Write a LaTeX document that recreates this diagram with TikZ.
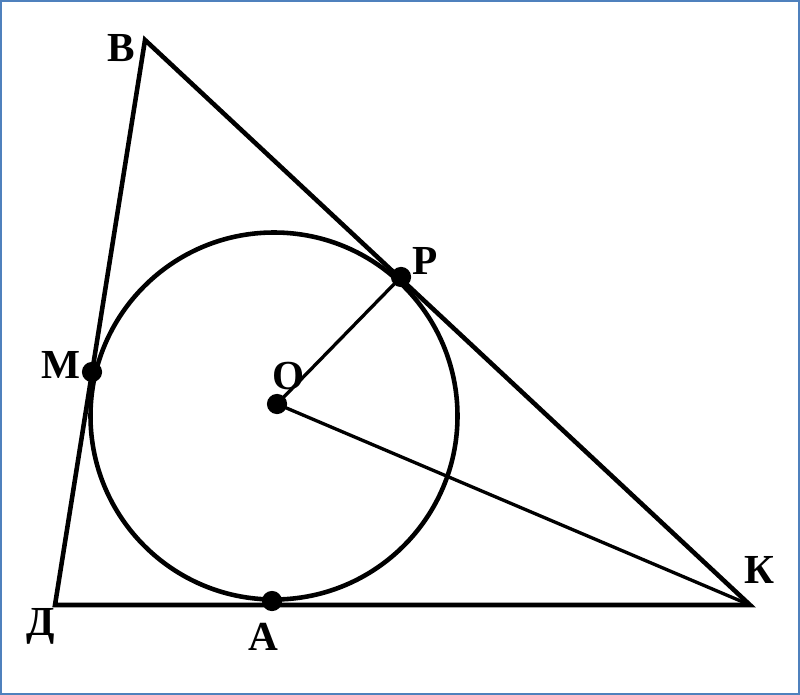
\documentclass[tikz,border=0pt]{standalone}
\usepackage{fontspec}
\setmainfont{Liberation Serif}
\definecolor{frameblue}{HTML}{4F81BD}
\tikzset{
  side/.style={line width=2.6pt, line join=miter},
  radius line/.style={line width=1.9pt},
  dot/.style={circle, fill=black, inner sep=0pt, minimum size=11.5pt},
  lbl/.style={anchor=base, font=\bfseries\fontsize{23.5}{28}\selectfont}
}
\begin{document}
\begin{tikzpicture}[x=0.02cm, y=-0.02cm]
            \useasboundingbox (0,0) rectangle (800,695);
            \draw[frameblue, line width=1.2pt] (1,1) rectangle (799,694);

            \coordinate (B) at (145,40);
            \coordinate (D) at (55,605);
            \coordinate (K) at (750,605);
            \coordinate (C) at (274,416);

            \draw[side] (B) -- (D) -- (K) -- cycle;
            \draw[side] (C) circle[radius=183.5];

            \node[dot] (O) at (277,404) {};
            \node[dot] (P) at (401,277) {};
            \node[dot] (M) at (92,372) {};
            \node[dot] (A) at (272,601) {};

            \draw[radius line] (O.center) -- (P.center);
            \draw[radius line] (O.center) -- (K);

            \node[lbl] (lB) at (121,62) {В};
            \node[lbl] (lP) at (425,275) {Р};
            \node[lbl] (lM) at (61,378) {М};
            \node[lbl] (lO) at (289,389) {О};
            \node[lbl] (lD) at (41,635) {Д};
            \node[lbl] (lA) at (263,650) {А};
            \node[lbl] (lK) at (759,583) {К};
        \end{tikzpicture}
\end{document}
